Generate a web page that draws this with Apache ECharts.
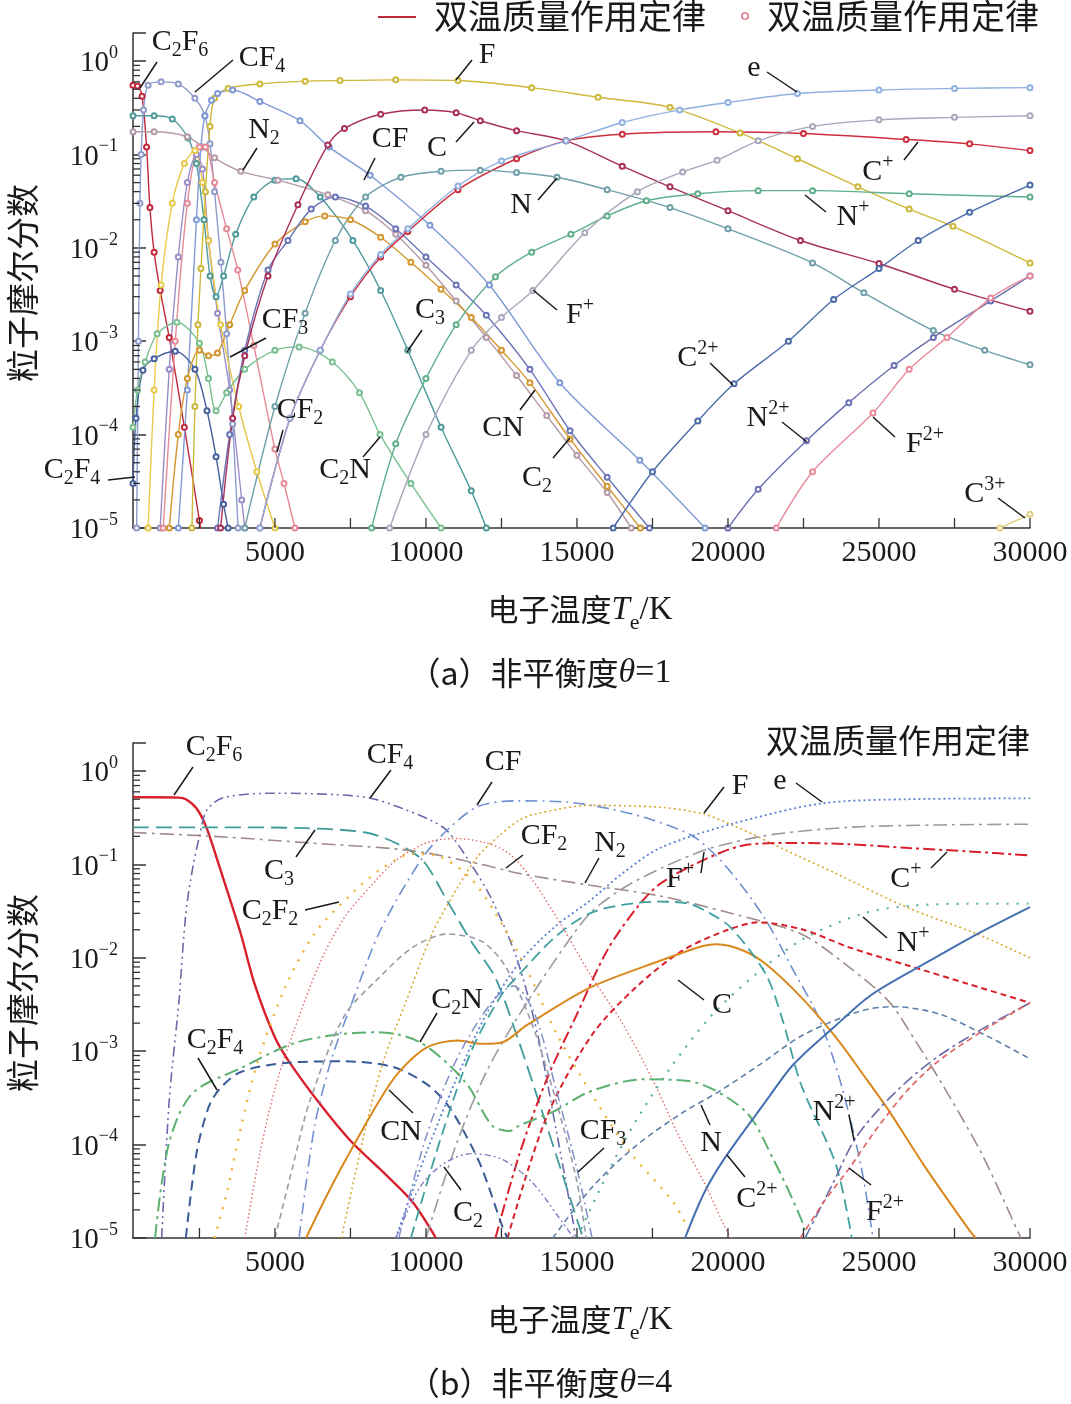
<!DOCTYPE html>
<html><head><meta charset="utf-8">
<script src="https://cdn.jsdelivr.net/npm/echarts@6/dist/echarts.min.js"></script>
<style>html,body{margin:0;padding:0;background:#fff}#c{width:1071px;height:1404px}</style>
</head><body><div id="c"></div>
<script>
// ---------------- axis ticks / labels ----------------
const xTickValues = [2500,5000,7500,10000,12500,15000,17500,20000,22500,25000,27500,30000];
const xLabelValues = [5000,10000,15000,20000,25000,30000];
const yMinorMantissas = [2,3,4,5,6,7,8,9];
const yDecades = [-5,-4,-3,-2,-1];

// ---------------- (a) theta = 1 : [Te (K), mole fraction] ----------------
const a_C2F6 = [[300,0.55],[450,0.54],[600,0.42],[750,0.12],[860,0.027],[1000,9e-3],[1200,3.5e-3],[1500,1.1e-3],[2000,1.2e-4],[2500,1.2e-5],[2600,7e-6]];
const a_CF4  = [[420,1e-5],[480,1e-3],[530,0.03],[570,0.1],[650,0.3],[800,0.55],[1230,0.6],[1800,0.57],[2350,0.4],[2680,0.26],[2850,0.13],[3000,0.04],[3210,7e-3],[3400,1.2e-3],[3600,1.3e-4],[3780,1e-5]];
const a_C3   = [[300,0.26],[1000,0.26],[1600,0.24],[2120,0.15],[2400,0.08],[2650,0.02],[2850,5e-3],[3050,3e-3],[3300,5e-3],[3700,0.014],[4300,0.035],[5000,0.053],[5700,0.055],[6500,0.035],[7580,0.012],[8500,3.5e-3],[9400,8e-4],[10500,1.2e-4],[11500,2.5e-5],[12000,1e-5]];
const a_N2   = [[300,0.175],[1000,0.175],[2100,0.155],[2600,0.12],[3000,0.092],[3870,0.066],[5100,0.053],[6750,0.037],[8000,0.025],[9000,0.014],[10000,6.5e-3],[11000,2.7e-3],[12000,1.1e-3],[13000,4.3e-4],[14000,1.6e-4],[15000,6e-5],[16000,2.4e-5],[16800,1e-5]];
const a_F    = [[2250,1e-5],[2350,2e-4],[2450,1.5e-3],[2550,6e-3],[2700,0.04],[2850,0.2],[3000,0.4],[3450,0.51],[4500,0.57],[6000,0.61],[7150,0.62],[9000,0.63],[11060,0.62],[13500,0.52],[15700,0.41],[18080,0.32],[20400,0.17],[22300,0.09],[24300,0.045],[26000,0.026],[27450,0.017],[30000,0.0069]];
const a_CF   = [[1800,1e-5],[2100,3e-4],[2400,0.02],[2550,0.12],[2680,0.26],[2900,0.38],[3100,0.45],[3600,0.49],[4500,0.37],[5830,0.23],[6800,0.12],[8150,0.06],[10130,0.0175],[12100,4e-3],[14430,3.6e-4],[17080,5.3e-5],[19240,1e-5]];
const a_CF3  = [[1200,1e-5],[1500,5e-4],[1800,8e-3],[2100,0.05],[2400,0.1],[2600,0.07],[2800,0.012],[3100,2e-3],[3500,3e-4],[3900,2e-5],[4000,1e-5]];
const a_CF2  = [[1300,1e-5],[1700,1e-3],[2100,0.03],[2500,0.12],[2700,0.12],[3000,0.05],[3400,0.016],[3770,5.8e-3],[4300,9e-4],[5000,7e-5],[5300,3e-5],[5660,1e-5]];
const a_C2F2 = [[800,1e-5],[1000,3e-4],[1230,4e-3],[1600,0.03],[2000,0.08],[2350,0.11],[2600,0.05],[2800,0.012],[3200,1.5e-3],[3800,2e-4],[4400,4e-5],[5000,1e-5]];
const a_C2F4 = [[300,3e-5],[400,1.5e-4],[630,4.9e-4],[1000,6.5e-4],[1700,7.8e-4],[2350,5e-4],[2750,1.8e-4],[3050,5.8e-5],[3300,1.8e-5],[3450,1e-5]];
const a_C2N  = [[300,1.2e-4],[450,3e-4],[700,6e-4],[1100,1.2e-3],[1750,1.6e-3],[2500,9.5e-4],[2800,4e-4],[3050,1.8e-4],[3400,2.8e-4],[4000,5e-4],[5000,8e-4],[5800,8.7e-4],[6900,6e-4],[7800,2.8e-4],[8480,1e-4],[9500,3e-5],[10500,1e-5]];
const a_CN   = [[1500,1e-5],[1800,1e-4],[2100,4e-4],[2500,8e-4],[2800,7e-4],[3100,7.5e-4],[3500,1.5e-3],[4000,3.5e-3],[5000,0.011],[6000,0.019],[6650,0.022],[7500,0.02],[8500,0.013],[9500,7e-3],[10500,3.6e-3],[11500,1.8e-3],[12500,8e-4],[13440,3.6e-4],[14770,9e-5],[16000,2.8e-5],[17100,1e-5]];
const a_C2   = [[3100,1e-5],[3500,1e-4],[4000,8e-4],[4770,5.8e-3],[5430,0.012],[6200,0.026],[7000,0.035],[8000,0.028],[9000,0.016],[10000,8e-3],[11000,4e-3],[12000,1.9e-3],[13440,5e-4],[14770,1.1e-4],[16000,3.5e-5],[17400,1e-5]];
const a_C    = [[3200,1e-5],[3600,1.5e-4],[4000,7e-4],[4770,5e-3],[5760,0.029],[6750,0.126],[7300,0.19],[8500,0.27],[9960,0.3],[11000,0.28],[11800,0.23],[13000,0.18],[14640,0.14],[16500,0.075],[18080,0.045],[20000,0.025],[22400,0.012],[25000,0.0068],[27500,0.0036],[30000,0.0021]];
const a_Cp   = [[4500,1e-5],[5500,1.5e-4],[6500,8e-4],[7500,3e-3],[8500,8e-3],[9400,0.015],[11060,0.042],[13000,0.09],[14640,0.14],[16500,0.165],[19600,0.175],[22500,0.168],[25900,0.145],[28000,0.13],[30000,0.11]];
const a_e    = [[4500,1e-5],[5500,1.5e-4],[6500,8e-4],[7500,3.2e-3],[8500,8.5e-3],[9400,0.016],[11060,0.046],[12500,0.085],[14640,0.14],[16500,0.22],[18400,0.3],[20000,0.36],[22300,0.45],[25000,0.49],[27500,0.51],[30000,0.52]];
const a_N    = [[4000,1e-5],[5000,2e-4],[6000,2e-3],[7000,0.012],[8000,0.035],[9170,0.057],[10500,0.066],[11800,0.068],[13000,0.064],[14340,0.057],[16000,0.042],[18080,0.027],[20000,0.016],[22800,6.9e-3],[24500,3.3e-3],[26800,1.3e-3],[28500,8e-4],[30000,5.6e-4]];
const a_Np   = [[8200,1e-5],[9000,8e-5],[10000,4e-4],[11000,1.5e-3],[12300,4.9e-3],[13500,9e-3],[14800,0.014],[16000,0.022],[17300,0.032],[19000,0.038],[21000,0.041],[22800,0.041],[26000,0.038],[30000,0.035]];
const a_Fp   = [[8800,1e-5],[10000,1e-4],[11500,8e-4],[12500,1.8e-3],[13540,3.5e-3],[15260,0.0145],[17000,0.04],[18500,0.065],[19640,0.087],[21000,0.14],[22800,0.2],[25000,0.235],[27500,0.25],[30000,0.26]];
const a_C2p  = [[16200,1e-5],[17500,4e-5],[19000,1.4e-4],[20200,3.5e-4],[22000,1e-3],[23500,2.8e-3],[25000,6e-3],[26300,0.012],[28000,0.024],[30000,0.047]];
const a_N2p  = [[20000,1e-5],[21000,2.6e-5],[22600,8.6e-5],[24000,2.2e-4],[25500,5.5e-4],[26800,1.1e-3],[28700,2.7e-3],[30000,5e-3]];
const a_F2p  = [[21600,1e-5],[22800,4e-5],[24800,1.7e-4],[26000,5e-4],[27250,1.1e-3],[28700,2.9e-3],[30000,5e-3]];
const a_C3p  = [[29000,1e-5],[30000,1.4e-5]];

// ---------------- (b) theta = 4 ----------------
const b_C2F6 = [[300,0.525],[1000,0.525],[1800,0.52],[2050,0.5],[2400,0.4],[2730,0.25],[3170,0.093],[3870,0.018],[4330,5.2e-3],[5000,1.4e-3],[5460,7.8e-4],[6500,2.7e-4],[7500,1.1e-4],[8780,4.4e-5],[9570,2.4e-5],[10330,1e-5]];
const b_CF4  = [[1250,1e-5],[1500,3e-4],[1820,3.4e-3],[2050,0.03],[2280,0.093],[2500,0.2],[2740,0.38],[3300,0.52],[5000,0.58],[7000,0.56],[8200,0.51],[9200,0.4],[10130,0.3],[10700,0.23],[11500,0.1],[12200,0.041],[13000,0.01],[13700,1.5e-3],[14300,1.5e-4],[14870,1.5e-5],[14950,1e-5]];
const b_CF   = [[5800,1e-5],[6300,1.5e-4],[6850,7.8e-4],[7500,3e-3],[8500,0.02],[9900,0.12],[10800,0.25],[11740,0.42],[13000,0.48],[14500,0.47],[16000,0.4],[17500,0.3],[18900,0.195],[20000,0.09],[21200,0.027],[22200,7e-3],[23000,2.3e-3],[23700,5e-4],[24400,6e-5],[24800,1e-5]];
const b_C3   = [[300,0.25],[3000,0.25],[6000,0.245],[8000,0.22],[9000,0.17],[9900,0.11],[10700,0.041],[11500,0.015],[12300,6.1e-3],[13000,1.5e-3],[13800,2.5e-4],[14500,5e-5],[15200,1e-5]];
const b_CF2  = [[4000,1e-5],[4500,8e-5],[5000,4e-4],[5580,1.5e-3],[6500,9e-3],[7300,0.027],[8200,0.06],[9000,0.11],[10000,0.17],[10950,0.19],[12000,0.17],[12770,0.13],[13500,0.07],[14500,0.022],[15430,6.7e-3],[16500,2e-3],[17500,5e-4],[18340,1.3e-4],[19200,4e-5],[19900,1.3e-5],[20100,1e-5]];
const b_N2   = [[300,0.22],[3000,0.2],[6150,0.17],[9570,0.14],[11850,0.1],[13100,0.08],[15430,0.06],[17750,0.046],[20100,0.03],[22420,0.018],[24000,8e-3],[25330,3.4e-3],[26200,1.3e-3],[27100,4.4e-4],[28400,8e-5],[29640,1.1e-5],[29700,1e-5]];
const b_C2F2 = [[3000,1e-5],[3400,3e-5],[3870,1.5e-4],[4440,8e-4],[5360,5e-3],[6300,0.018],[7300,0.041],[8440,0.086],[9570,0.13],[10500,0.12],[11500,0.07],[12300,0.03],[13300,8e-3],[14300,1.6e-3],[15430,3.7e-4],[16800,8e-5],[18240,2.3e-5],[18800,1e-5]];
const b_F    = [[7200,1e-5],[8000,1.5e-4],[8600,8e-4],[9340,3.4e-3],[10200,0.018],[11050,0.057],[11700,0.12],[12400,0.2],[13100,0.3],[13660,0.35],[15430,0.43],[17750,0.41],[19150,0.35],[20200,0.26],[21260,0.18],[22400,0.12],[23580,0.08],[25900,0.035],[28250,0.018],[30000,0.01]];
const b_e    = [[9000,1e-5],[10000,8e-5],[11000,5e-4],[12000,2.5e-3],[13100,9e-3],[14300,0.022],[15430,0.041],[16500,0.08],[17750,0.15],[20100,0.27],[23100,0.45],[26000,0.5],[30000,0.51]];
const b_Fp   = [[10000,1e-5],[11000,1e-4],[12000,6e-4],[13100,2.5e-3],[14500,0.012],[15430,0.03],[16500,0.055],[17750,0.09],[19150,0.14],[20100,0.17],[21500,0.21],[24000,0.25],[27000,0.265],[30000,0.27]];
const b_Cp   = [[12300,1e-5],[13100,8e-5],[14000,5e-4],[15000,2.5e-3],[16000,0.012],[17000,0.035],[17750,0.062],[19150,0.11],[20500,0.16],[22000,0.17],[24000,0.165],[26000,0.15],[28000,0.138],[30000,0.125]];
const b_Np   = [[15000,1e-5],[16500,1e-4],[18000,6e-4],[19500,2.5e-3],[21000,7e-3],[22500,0.016],[24500,0.03],[26000,0.036],[28000,0.038],[30000,0.038]];
const b_C    = [[12700,1e-5],[14000,2e-4],[15500,1.5e-3],[17000,5e-3],[18500,0.012],[20000,0.02],[21000,0.024],[22500,0.02],[24000,0.013],[25900,8.4e-3],[28000,5.2e-3],[30000,3.3e-3]];
const b_C2N  = [[1030,1e-5],[1480,1e-4],[2250,3.5e-4],[3870,6.6e-4],[5580,1.2e-3],[7000,1.5e-3],[8400,1.6e-3],[9800,1.25e-3],[11300,4.7e-4],[12190,1.6e-4],[12770,1.4e-4],[13090,1.6e-4],[14270,2.3e-4],[15430,3.7e-4],[17190,5e-4],[18700,4.8e-4],[20560,2.3e-4],[21500,7e-5],[22420,1.6e-5],[22600,1e-5]];
const b_C2F4 = [[2050,1e-5],[2400,8e-5],[2800,2.5e-4],[3180,4e-4],[3870,6e-4],[5350,7.5e-4],[7300,7.8e-4],[8900,6.8e-4],[10000,4.5e-4],[10700,2.7e-4],[11300,1.3e-4],[11850,5.6e-5],[12540,1.3e-5],[12700,1e-5]];
const b_CN   = [[6030,1e-5],[6600,2.4e-5],[7300,6.5e-5],[8440,2.9e-4],[9110,6e-4],[10030,1.1e-3],[11060,1.3e-3],[11850,1.2e-3],[12540,1.25e-3],[13340,1.9e-3],[15430,4.8e-3],[17750,9.3e-3],[19170,0.0134],[19640,0.014],[20500,0.012],[21250,8.6e-3],[22420,3.8e-3],[23580,1.4e-3],[24500,5.5e-4],[25330,2.3e-4],[26490,6e-5],[28000,1.2e-5],[28200,1e-5]];
const b_CF3  = [[9100,1e-5],[10000,1.2e-4],[11000,8e-4],[12190,3.4e-3],[12900,5e-3],[13600,2.5e-3],[14300,4e-4],[15030,5e-5],[15500,1e-5]];
const b_C2   = [[9000,1e-5],[9800,3.5e-5],[10600,6.3e-5],[11500,8e-5],[12500,7e-5],[13500,4e-5],[14500,1.5e-5],[14900,1e-5]];
const b_N    = [[14200,1e-5],[15500,3.5e-5],[17000,1e-4],[18500,2.2e-4],[19700,3.7e-4],[21000,7e-4],[22500,1.5e-3],[24400,2.7e-3],[25500,3e-3],[27000,2.5e-3],[28500,1.5e-3],[30000,8.3e-4]];
const b_hump = [[5000,1e-5],[5600,6e-5],[6150,2.9e-4],[7300,2.4e-3],[8440,6.1e-3],[9570,0.013],[10700,0.018],[11850,0.015],[12640,8e-3],[13500,2e-3],[14300,3e-4],[15000,4e-5],[15300,1e-5]];
const b_teal = [[9500,1e-5],[10500,1.2e-4],[11500,1e-3],[12500,4e-3],[13100,6.7e-3],[14300,0.017],[15430,0.03],[16500,0.037],[17750,0.04],[18700,0.038],[19400,0.03],[20100,0.021],[21250,6.7e-3],[21800,2.2e-3],[22420,4.4e-4],[23580,6e-5],[24100,1e-5]];
const b_C2p  = [[18580,1e-5],[19200,3e-5],[19870,7e-5],[21250,2.9e-4],[22180,7.3e-4],[23580,1.9e-3],[24740,4e-3],[26490,8.6e-3],[28250,0.018],[30000,0.035]];
const b_N2p  = [[22550,1e-5],[23500,4e-5],[24170,1.1e-4],[25000,2.4e-4],[26000,5e-4],[27000,9e-4],[28500,1.8e-3],[30000,3.3e-3]];
const b_F2p  = [[22400,1e-5],[23200,2.5e-5],[24000,5.5e-5],[25000,1.6e-4],[26000,4e-4],[27000,8e-4],[28500,1.7e-3],[30000,3.3e-3]];

// ---------------- styles (kept apart from data) ----------------
const SERIF = '"Liberation Serif","Times New Roman",serif';
const CJK = '"Noto Sans CJK SC","Noto Sans CJK JP",sans-serif';
const INK = '#1a1a1a';

const seriesA = [
  ['C2F6',a_C2F6,'#c0283c'],['CF4',a_CF4,'#8f9bcc'],['C3',a_C3,'#4f9a9a'],['N2',a_N2,'#b49aa8'],
  ['F',a_F,'#cdb83a'],['CF',a_CF,'#7f98d6'],['CF3',a_CF3,'#9b8cc8'],['CF2',a_CF2,'#e58a96'],
  ['C2F2',a_C2F2,'#e8c848'],['C2F4',a_C2F4,'#465f9e'],['C2N',a_C2N,'#78c090'],['CN',a_CN,'#d4962e'],
  ['C2',a_C2,'#6a74b8'],['C',a_C,'#a83058'],['C+',a_Cp,'#cc2e3e'],['e',a_e,'#8fb0e0'],
  ['N',a_N,'#6f9fa8'],['N+',a_Np,'#5fb08a'],['F+',a_Fp,'#a8a8bc'],['C2+',a_C2p,'#4a6aa8'],
  ['N2+',a_N2p,'#6a70b0'],['F2+',a_F2p,'#e88a9a'],['C3+',a_C3p,'#e0d080']
];
const seriesB = [
  ['C2F6',b_C2F6,'#d8202c','solid',2.4],['CF4',b_CF4,'#6a6aaa',[10,4,2,4,2,4],1.6],
  ['CF',b_CF,'#6f8fd0',[12,5,2,5],1.6],['C3',b_C3,'#3f9a9a',[16,7],1.8],
  ['CF2',b_CF2,'#e06a6a',[1.5,2.5],1.4],['N2',b_N2,'#a08c88',[14,5,3,5],1.6],
  ['C2F2',b_C2F2,'#f0b030',[2,8],2.4],['F',b_F,'#d8a830',[2,3],1.6],
  ['e',b_e,'#5a80d0',[2,3],1.8],['F+',b_Fp,'#9a9a9a',[14,5,3,5],1.6],
  ['C+',b_Cp,'#d8202c',[12,4,3,4],2],['N+',b_Np,'#5ab0a0',[2,8],2.2],
  ['C',b_C,'#d8202c',[6,4],2],['C2N',b_C2N,'#5cb070',[14,5,3,5],2],
  ['C2F4',b_C2F4,'#3a5a98',[10,6],2],['CN',b_CN,'#d8881c','solid',2],
  ['CF3',b_CF3,'#8090c8',[10,4,2,4],1.5],['C2',b_C2,'#8878c0',[6,3,2,3,2,3],1.4],
  ['N',b_N,'#6080a8',[6,4],1.6],['',b_hump,'#9a9aaa',[6,4],1.6],['',b_teal,'#40a0a0',[12,6],1.8],
  ['C2+',b_C2p,'#4470b0','solid',2],['N2+',b_N2p,'#6a6aaa',[12,4,3,4],1.6],['F2+',b_F2p,'#e06060',[6,4],1.6]
];

// ---------------- species labels: [cx, cy, text, leader x1,y1,x2,y2] ----------------
const labelsA = [
  [180,44,'{b|C}{s|2}{b|F}{s|6}',[157,62,140,88]],
  [262,60,'{b|CF}{s|4}',[233,60,195,92]],
  [487,55,'{b|F}',[472,60,456,80]],
  [754,68,'{b|e}',[767,72,797,92]],
  [264,132,'{b|N}{s|2}',[257,148,243,170]],
  [390,139,'{b|CF}',[375,158,364,180]],
  [437,148,'{b|C}',[456,142,474,122]],
  [878,170,'{B|C}{p|+}',[904,160,918,142]],
  [521,205,'{b|N}',[538,200,557,178]],
  [853,215,'{B|N}{p|+}',[826,212,805,195]],
  [285,322,'{b|CF}{s|3}',[266,338,230,357]],
  [430,312,'{b|C}{s|3}',[422,330,407,352]],
  [580,313,'{B|F}{p|+}',[557,310,533,290]],
  [300,412,'{b|CF}{s|2}',[283,430,277,452]],
  [503,428,'{b|CN}',[520,410,535,390]],
  [537,480,'{b|C}{s|2}',[553,458,570,438]],
  [345,472,'{b|C}{s|2}{b|N}',[363,457,380,437]],
  [72,472,'{b|C}{s|2}{b|F}{s|4}',[108,480,135,477]],
  [698,356,'{B|C}{p|2+}',[710,363,733,385]],
  [768,416,'{B|N}{p|2+}',[782,422,807,442]],
  [925,442,'{B|F}{p|2+}',[895,437,873,417]],
  [985,492,'{B|C}{p|3+}',[998,498,1025,518]]
];
const labelsB = [
  [214,749,'{b|C}{s|2}{b|F}{s|6}',[193,767,174,795]],
  [390,757,'{b|CF}{s|4}',[391,770,370,798]],
  [503,762,'{b|CF}',[492,782,477,805]],
  [279,873,'{b|C}{s|3}',[296,857,315,830]],
  [544,838,'{b|CF}{s|2}',[523,855,506,868]],
  [610,845,'{b|N}{s|2}',[599,858,585,883]],
  [270,913,'{b|C}{s|2}{b|F}{s|2}',[305,910,339,902]],
  [740,786,'{b|F}',[724,787,704,813]],
  [780,781,'{b|e}',[796,783,822,802]],
  [680,877,'{B|F}{p|+}',[701,873,704,852]],
  [906,877,'{B|C}{p|+}',[931,868,947,852]],
  [913,941,'{B|N}{p|+}',[887,938,863,917]],
  [722,1005,'{b|C}',[704,1000,678,980]],
  [457,1002,'{b|C}{s|2}{b|N}',[437,1013,420,1042]],
  [215,1042,'{b|C}{s|2}{b|F}{s|4}',[198,1058,217,1090]],
  [401,1132,'{b|CN}',[413,1113,389,1090]],
  [468,1215,'{b|C}{s|2}',[461,1190,444,1167]],
  [603,1133,'{b|CF}{s|3}',[604,1148,578,1172]],
  [711,1143,'{b|N}',[710,1125,701,1105]],
  [757,1197,'{B|C}{p|2+}',[745,1177,727,1155]],
  [834,1110,'{B|N}{p|2+}',[849,1115,854,1140]],
  [885,1210,'{B|F}{p|2+}',[871,1185,849,1168]]
];

// ---------------- build ----------------
const chart = echarts.init(document.getElementById('c'), null, {renderer:'canvas'});
const LR = {
  b:{fontSize:30,fontFamily:SERIF,lineHeight:30,verticalAlign:'top',fill:INK},
  s:{fontSize:20,fontFamily:SERIF,lineHeight:34,verticalAlign:'bottom',fill:INK},
  B:{fontSize:30,fontFamily:SERIF,lineHeight:30,verticalAlign:'bottom',fill:INK},
  p:{fontSize:20,fontFamily:SERIF,lineHeight:34,verticalAlign:'top',fill:INK}
};
function sup(e){ return e < 0 ? '\u2212' + (-e) : String(e); }
function yAxisCfg(gi){
  return {type:'log', logBase:10, gridIndex:gi, min:1e-5, max:2,
    axisLine:{show:true,lineStyle:{color:'#333',width:1.5}},
    axisTick:{show:true,inside:true,length:13,lineStyle:{color:'#333',width:1.5}},
    splitLine:{show:false}, minorTick:{show:false},
    axisLabel:{margin:15, formatter:function(v){
      const e = Math.round(Math.log10(v));
      if (Math.abs(Math.log10(v) - e) > 1e-6) return '';
      return '{B|10}{p|' + sup(e) + '}';
    }, rich:{
      B:{fontSize:29,fontFamily:SERIF,lineHeight:29,verticalAlign:'bottom',color:INK},
      p:{fontSize:18,fontFamily:SERIF,lineHeight:34,verticalAlign:'top',color:INK}
    }}};
}
function xAxisCfg(gi){
  return {type:'value', gridIndex:gi, min:300, max:30000,
    axisLine:{show:true,onZero:false,lineStyle:{color:'#333',width:1.5}},
    axisTick:{show:false}, splitLine:{show:false},
    axisLabel:{customValues:xLabelValues, margin:10, fontSize:30, fontFamily:SERIF, color:INK,
      formatter:function(v){ return String(Math.round(v)); }}};
}
function tickSeries(gi){
  const yMinor = [];
  yDecades.forEach(function(e){ yMinorMantissas.forEach(function(m){ yMinor.push([300, m*Math.pow(10,e)]); }); });
  const xT = xTickValues.map(function(v){ return [v, 1e-5]; });
  return [
    {type:'custom', xAxisIndex:gi, yAxisIndex:gi, data:yMinor, silent:true, z:6,
     renderItem:function(p,api){ const c = api.coord([api.value(0),api.value(1)]);
       return {type:'line', shape:{x1:c[0],y1:c[1],x2:c[0]+7,y2:c[1]}, style:{stroke:'#333',lineWidth:1.3}}; }},
    {type:'custom', xAxisIndex:gi, yAxisIndex:gi, data:xT, silent:true, z:6,
     renderItem:function(p,api){ const c = api.coord([api.value(0),api.value(1)]);
       return {type:'line', shape:{x1:c[0],y1:c[1],x2:c[0],y2:c[1]-10}, style:{stroke:'#333',lineWidth:1.3}}; }}
  ];
}
const series = [];
seriesA.forEach(function(s){
  series.push({type:'line', name:s[0], xAxisIndex:0, yAxisIndex:0, data:s[1], smooth:0.3,
    symbol:'emptyCircle', symbolSize:5, showAllSymbol:true, clip:true, silent:true,
    lineStyle:{color:s[2], width:1.4}, itemStyle:{color:s[2], borderColor:s[2], borderWidth:1}});
});
seriesB.forEach(function(s){
  series.push({type:'line', name:s[0], xAxisIndex:1, yAxisIndex:1, data:s[1], smooth:0.3,
    symbol:'none', clip:true, silent:true,
    lineStyle:{color:s[2], width:s[4], type:s[3], cap:'butt'}});
});
tickSeries(0).concat(tickSeries(1)).forEach(function(s){ series.push(s); });

const graphics = [];
function addLabels(list){
  list.forEach(function(l){
    const d = l[3];
    graphics.push({type:'line', silent:true, z:50, shape:{x1:d[0],y1:d[1],x2:d[2],y2:d[3]}, style:{stroke:INK,lineWidth:1.5}});
    graphics.push({type:'text', silent:true, z:51, x:l[0], y:l[1], style:{text:l[2], rich:LR, align:'center', verticalAlign:'middle', fill:INK, fontFamily:SERIF, fontSize:30}});
  });
}
addLabels(labelsA); addLabels(labelsB);
// legend (a)
graphics.push({type:'line', z:50, shape:{x1:378,y1:17,x2:416,y2:17}, style:{stroke:'#c0283c',lineWidth:2}});
graphics.push({type:'text', z:50, x:434, y:16, style:{text:'双温质量作用定律', fontSize:34, fontFamily:CJK, fill:INK, align:'left', verticalAlign:'middle'}});
graphics.push({type:'circle', z:50, shape:{cx:745,cy:16,r:3.2}, style:{fill:'#fff', stroke:'#d06070', lineWidth:1.3}});
graphics.push({type:'text', z:50, x:767, y:16, style:{text:'双温质量作用定律', fontSize:34, fontFamily:CJK, fill:INK, align:'left', verticalAlign:'middle'}});
// legend (b)
graphics.push({type:'text', z:50, x:1030, y:740, style:{text:'双温质量作用定律', fontSize:33, fontFamily:CJK, fill:INK, align:'right', verticalAlign:'middle'}});
// axis names and captions
const XR = {
  c:{fontSize:31,fontFamily:CJK,lineHeight:32,verticalAlign:'top',fill:INK},
  i:{fontSize:33,fontFamily:SERIF,fontStyle:'italic',lineHeight:32,verticalAlign:'top',fill:INK},
  s:{fontSize:22,fontFamily:SERIF,lineHeight:40,verticalAlign:'bottom',fill:INK},
  r:{fontSize:33,fontFamily:SERIF,lineHeight:32,verticalAlign:'top',fill:INK}
};
const CR = {
  c:{fontSize:32,fontFamily:CJK,fill:INK},
  i:{fontSize:34,fontFamily:SERIF,fontStyle:'italic',fill:INK},
  r:{fontSize:34,fontFamily:SERIF,fill:INK}
};
[0,710].forEach(function(dy, k){
  graphics.push({type:'text', z:50, x:22, y:283+dy, rotation:Math.PI/2, style:{text:'粒子摩尔分数', fontSize:33, fontFamily:CJK, fill:INK, align:'center', verticalAlign:'middle'}});
  graphics.push({type:'text', z:50, x:580, y:614+dy, style:{text:'{c|电子温度}{i|T}{s|e}{r|/K}', rich:XR, align:'center', verticalAlign:'middle', fill:INK}});
  graphics.push({type:'text', z:50, x:540, y:673+dy, style:{text:'{c|（' + (k===0?'a':'b') + '）非平衡度}{i|θ}{r|=' + (k===0?'1':'4') + '}', rich:CR, align:'center', verticalAlign:'middle', fill:INK}});
});

chart.setOption({
  animation:false,
  backgroundColor:'#fff',
  textStyle:{fontFamily:SERIF},
  grid:[{left:133, top:33, width:897, height:495, containLabel:false},
        {left:133, top:743, width:897, height:495, containLabel:false}],
  xAxis:[xAxisCfg(0), xAxisCfg(1)],
  yAxis:[yAxisCfg(0), yAxisCfg(1)],
  series:series,
  graphic:{elements:graphics}
});
</script></body></html>
